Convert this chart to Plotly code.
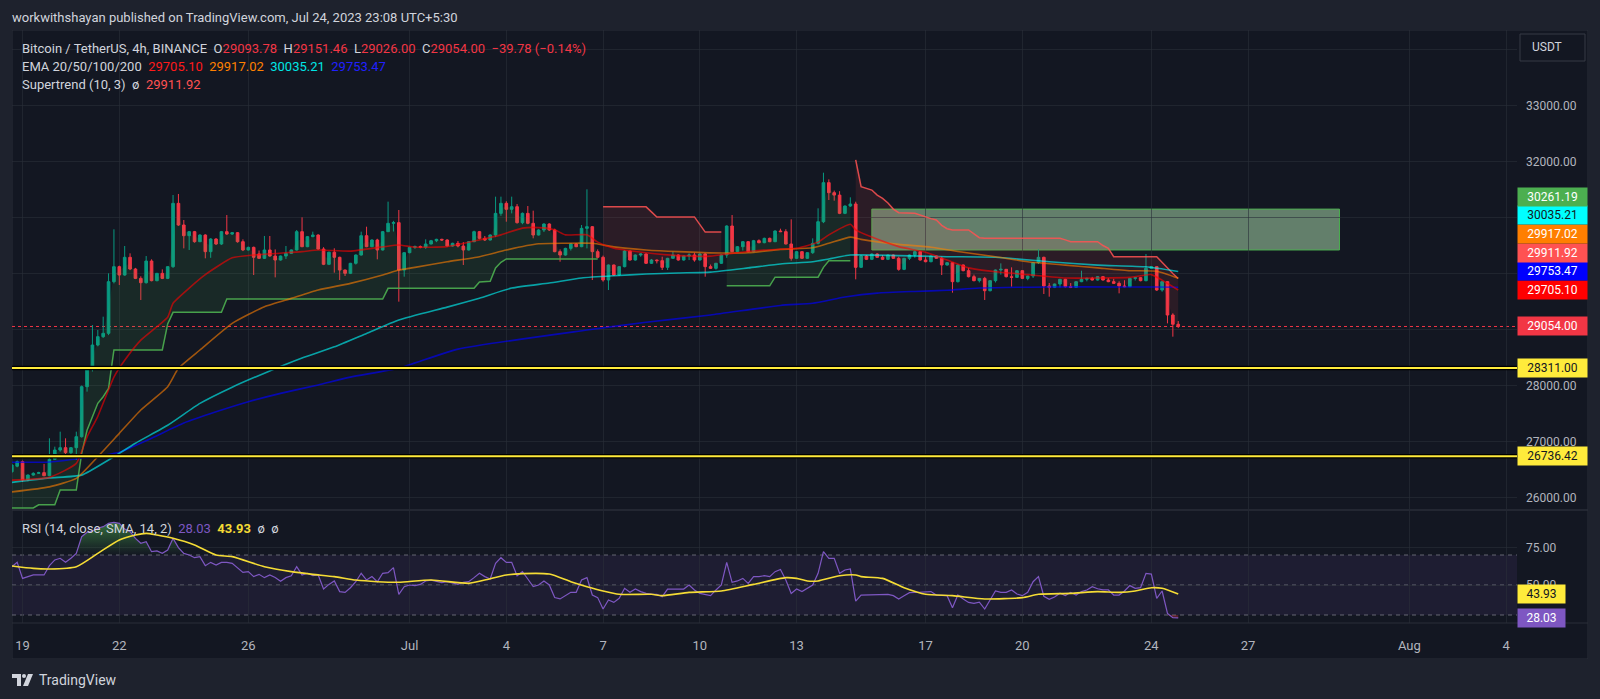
import numpy as np
import pandas as pd
import plotly.graph_objects as go

W, H = 1600, 699
BG = "#131722"
FRAME = "#1e222d"
BORDER = "#2a2e39"
GRID = "rgba(42,46,57,0.6)"
TEXT = "#d1d4dc"
AXIS_TEXT = "#b2b5be"
UP = "#089981"
DOWN = "#f23645"
FONT = "Roboto, 'Noto Sans', sans-serif"

# ---- BTCUSDT 4h candles, first bar 2023-06-18 16:00 ----
bar_start = "2023-06-18 16:00"
opens = [
    26460, 26560, 26640, 26313, 26402, 26432, 26444, 26390, 26682, 26848,
    26890, 26801, 26890, 27086, 27979, 28289, 28723, 28872, 28932, 29854,
    30122, 29973, 30289, 30080, 29913, 29836, 30223, 29872, 30003, 29913,
    30122, 31253, 30866, 30675, 30747, 30568, 30687, 30390, 30616, 30527,
    30747, 30705, 30729, 30568, 30420, 30467, 30350, 30271, 30420, 30312,
    30241, 30312, 30360, 30420, 30747, 30479, 30658, 30687, 30437, 30164,
    30380, 30289, 30062, 30003, 30182, 30330, 30675, 30479, 30598, 30420,
    30747, 30896, 30908, 30062, 30372, 30467, 30480, 30470, 30527, 30586,
    30610, 30598, 30491, 30539, 30491, 30420, 30568, 30747, 30628, 30598,
    30687, 31074, 31253, 31146, 31193, 30908, 31074, 30896, 30687, 30777,
    30884, 30777, 30390, 30330, 30449, 30527, 30479, 30806, 30836, 30390,
    30289, 29884, 30152, 29973, 30122, 30402, 30241, 30330, 30348, 30182,
    30240, 30229, 30110, 30271, 30330, 30241, 30312, 30330, 30241, 30348,
    30122, 30092, 30182, 30330, 30848, 30390, 30479, 30568, 30390, 30586,
    30550, 30628, 30568, 30759, 30747, 30527, 30271, 30390, 30271, 30372,
    30539, 30925, 31622, 31443, 31400, 31074, 31205, 31241, 30110, 30312,
    30253, 30348, 30289, 30253, 30330, 30271, 30074, 30271, 30330, 30390,
    30241, 30211, 30312, 30271, 30152, 30193, 29854, 30152, 30050, 29943,
    29872, 29913, 29693, 29872, 30062, 30075, 29943, 29931, 30050, 29913,
    29955, 30193, 30289, 29777, 29753, 29812, 29896, 29765, 29753, 29854,
    29896, 29913, 29884, 29943, 29884, 29854, 29824, 29777, 29765, 29913,
    29925, 29872, 30092, 30122, 29705, 29854, 29259, 29093.78,
]
highs = [
    26600, 26660, 26660, 26410, 26450, 26460, 26600, 27057, 26908, 27176,
    27057, 26900, 27176, 28000, 28300, 29080, 28991, 29229, 30003, 30789,
    30140, 30491, 30360, 30100, 29950, 30312, 30253, 30010, 30074, 30130,
    31402, 31420, 30955, 30760, 30760, 30700, 30700, 30630, 30630, 30760,
    31044, 30740, 30740, 30610, 30480, 30480, 30410, 30670, 30670, 30430,
    30320, 30491, 30430, 30777, 31003, 30670, 30747, 30700, 30470, 30390,
    30450, 30300, 30070, 30190, 30340, 30747, 30836, 30610, 30620, 30760,
    31283, 30940, 31134, 30380, 30480, 30500, 30500, 30610, 30600, 30620,
    30620, 30610, 30550, 30580, 30560, 30580, 30765, 30760, 30670, 30700,
    31372, 31372, 31290, 31372, 31240, 31090, 31205, 31122, 30790, 30896,
    30896, 30800, 30430, 30460, 30540, 30540, 30866, 31503, 30848, 30430,
    30320, 30160, 30160, 30130, 30420, 30410, 30340, 30360, 30360, 30260,
    30250, 30300, 30280, 30390, 30340, 30320, 30360, 30370, 30360, 30360,
    30160, 30190, 30340, 30860, 31044, 30490, 30580, 30580, 30600, 30610,
    30640, 30640, 30770, 30800, 30790, 30967, 30400, 30400, 30380, 30628,
    31164, 31800, 31681, 31480, 31470, 31215, 31360, 31282, 30330, 30330,
    30360, 30360, 30330, 30340, 30340, 30300, 30280, 30340, 30431, 30400,
    30300, 30320, 30320, 30300, 30200, 30200, 30160, 30160, 30100, 29980,
    29920, 29940, 29880, 30070, 30181, 30080, 30110, 30060, 30060, 29960,
    30200, 30431, 30300, 29830, 29820, 29905, 29905, 29830, 29860, 30050,
    29925, 29940, 29950, 29950, 29920, 29905, 29860, 29880, 29920, 29935,
    29935, 30348, 30130, 30130, 29860, 29860, 29290, 29151.46,
]
lows = [
    26440, 26540, 26283, 26290, 26390, 26420, 26380, 26380, 26670, 26818,
    26729, 26717, 26670, 27070, 27890, 28250, 28700, 28850, 28900, 29824,
    29795, 29960, 30060, 29900, 29527, 29820, 29860, 29860, 29900, 29900,
    30100, 30850, 30449, 30420, 30550, 30560, 30271, 30280, 30510, 30510,
    30690, 30690, 30550, 30400, 30410, 29973, 30260, 30260, 30300, 29931,
    30230, 30260, 30350, 30410, 30470, 30470, 30650, 30420, 30150, 30150,
    30015, 29884, 29955, 29990, 30160, 30320, 30470, 30470, 30253, 30410,
    30740, 30750, 29497, 29943, 30360, 30440, 30450, 30440, 30520, 30560,
    30580, 30480, 30480, 30467, 30152, 30410, 30560, 30610, 30580, 30590,
    30650, 31030, 30925, 31074, 30890, 30880, 30880, 30628, 30680, 30740,
    30760, 30380, 30211, 30320, 30410, 30470, 30470, 30449, 29884, 30270,
    29854, 29705, 29960, 29960, 30110, 30230, 30230, 30300, 30170, 30170,
    30180, 30062, 30062, 30260, 30230, 30230, 30240, 30211, 30230, 29943,
    30080, 30070, 30170, 30280, 30380, 30380, 30410, 30380, 30380, 30540,
    30540, 30560, 30560, 30740, 30520, 30229, 30260, 30260, 30260, 30350,
    30520, 30900, 31312, 31300, 31060, 31060, 31190, 29896, 30100, 30240,
    30240, 30280, 30240, 30240, 30260, 30050, 30060, 30240, 30280, 30230,
    30200, 30200, 30260, 29973, 30140, 29658, 29840, 30040, 29930, 29860,
    29840, 29527, 29680, 29840, 29980, 29930, 29765, 29920, 29900, 29880,
    29920, 30170, 29634, 29586, 29740, 29750, 29750, 29740, 29750, 29845,
    29860, 29875, 29875, 29875, 29845, 29815, 29646, 29755, 29755, 29875,
    29860, 29860, 30080, 29690, 29675, 29110, 28872, 29026.00,
]
closes = [
    26580, 26640, 26313, 26402, 26432, 26444, 26390, 26682, 26848, 26890,
    26801, 26890, 27086, 27979, 28289, 28723, 28872, 28932, 29854, 30122,
    29973, 30289, 30080, 29913, 29836, 30223, 29872, 30003, 29913, 30122,
    31253, 30866, 30675, 30747, 30568, 30687, 30390, 30616, 30527, 30747,
    30705, 30729, 30568, 30420, 30467, 30289, 30271, 30420, 30312, 30241,
    30312, 30360, 30420, 30747, 30479, 30658, 30687, 30437, 30164, 30380,
    30289, 30062, 30003, 30182, 30330, 30675, 30479, 30598, 30420, 30747,
    30896, 30908, 30062, 30372, 30467, 30480, 30470, 30527, 30586, 30610,
    30598, 30491, 30539, 30491, 30420, 30568, 30747, 30628, 30598, 30687,
    31074, 31253, 31146, 31193, 30908, 31074, 30896, 30687, 30777, 30884,
    30777, 30390, 30330, 30449, 30527, 30479, 30806, 30836, 30390, 30289,
    29884, 30152, 29973, 30122, 30402, 30241, 30330, 30348, 30182, 30240,
    30229, 30110, 30271, 30330, 30241, 30312, 30330, 30241, 30348, 30122,
    30092, 30182, 30330, 30848, 30390, 30479, 30568, 30390, 30586, 30550,
    30628, 30568, 30759, 30747, 30527, 30271, 30390, 30271, 30372, 30539,
    30925, 31622, 31443, 31400, 31074, 31205, 31241, 30110, 30312, 30253,
    30348, 30289, 30253, 30330, 30271, 30074, 30271, 30330, 30390, 30241,
    30211, 30312, 30271, 30152, 30193, 29854, 30152, 30050, 29943, 29872,
    29913, 29693, 29872, 30062, 30075, 29943, 29931, 30050, 29913, 29955,
    30193, 30289, 29777, 29753, 29812, 29896, 29765, 29753, 29854, 29896,
    29913, 29884, 29943, 29884, 29854, 29824, 29777, 29765, 29913, 29925,
    29872, 30092, 30122, 29705, 29854, 29259, 29093.78, 29054.00,
]

# ---- EMA 20/50/100/200 (bar index -> value) ----
ema20_idx = [0, 7, 12, 14, 16, 19, 21, 24, 27, 29, 30, 33, 36, 41, 45, 54, 57, 63, 69, 72,
             75, 81, 87, 91, 95, 98, 101, 103, 107, 109, 112, 118, 124, 130, 134, 140, 146,
             150, 152, 156, 157, 160, 165, 170, 174, 178, 183, 189, 196, 202, 208, 212, 214, 217]
ema20_val = [26310, 26360, 26610, 27080, 27450, 28150, 28450, 28810, 29050, 29220, 29470,
             29740, 29980, 30280, 30330, 30390, 30420, 30400, 30475, 30510, 30470, 30480,
             30600, 30690, 30810, 30820, 30780, 30690, 30690, 30560, 30450, 30370, 30320,
             30310, 30360, 30420, 30450, 30560, 30690, 30880, 30780, 30650, 30480, 30380,
             30240, 30100, 30030, 29980, 29920, 29920, 29930, 29980, 29880, 29705.10]
ema50_idx = [0, 7, 12, 16, 20, 24, 29, 31, 35, 41, 47, 52, 57, 63, 69, 72, 75, 81, 87, 92,
             98, 103, 108, 112, 118, 124, 132, 137, 143, 149, 152, 156, 158, 165, 171, 177,
             183, 189, 196, 202, 208, 213, 217]
ema50_val = [26100, 26190, 26342, 26729, 27146, 27563, 27979, 28307, 28634, 29110, 29408,
             29556, 29705, 29824, 29973, 30062, 30110, 30210, 30300, 30420, 30530, 30540,
             30540, 30475, 30420, 30390, 30365, 30370, 30430, 30460, 30540, 30650, 30610,
             30520, 30470, 30380, 30300, 30210, 30150, 30100, 30050, 30040, 29917.02]
ema100_idx = [0, 7, 13, 18, 23, 29, 35, 41, 47, 54, 60, 66, 72, 81, 87, 93, 100, 106, 112,
              118, 124, 130, 137, 143, 149, 152, 156, 165, 174, 183, 193, 202, 211, 217]
ema100_val = [26270, 26350, 26400, 26670, 26970, 27290, 27680, 27970, 28220, 28490, 28690,
              28930, 29170, 29400, 29560, 29740, 29830, 29920, 29960, 29990, 30010, 30025,
              30100, 30170, 30210, 30260, 30330, 30320, 30300, 30290, 30210, 30150, 30120,
              30035.21]
ema200_idx = [0, 7, 13, 20, 26, 32, 38, 44, 50, 57, 63, 72, 83, 107, 118, 130, 143, 149,
              155, 161, 168, 174, 180, 193, 205, 213, 217]
ema200_val = [26630, 26635, 26700, 26810, 27060, 27330, 27530, 27710, 27860, 28010, 28150,
              28310, 28650, 28990, 29130, 29260, 29430, 29470, 29580, 29650, 29680, 29700,
              29740, 29760, 29760, 29760, 29753.47]

# ---- Supertrend (10, 3): line points and trend segments (bar ranges) ----
st_idx = [0, 4, 5, 8, 9, 12, 13, 14, 15, 16, 17, 18, 19, 28, 29, 30, 39, 40, 69, 70, 86, 87,
          89, 90, 91, 92, 109,
          110, 118, 119, 120, 127, 128, 129, 132,
          133, 141, 142, 150, 151, 152, 156,
          157, 158, 160, 161, 162, 163, 164, 165, 168, 169, 170, 171, 172, 173, 174, 175,
          178, 179, 180, 181, 195, 196, 197, 202, 203, 204, 205, 213, 214, 215, 216, 217]
st_val = [25815, 25815, 25870, 25870, 26134, 26134, 26789, 27200, 27443, 27682, 27800, 27949,
          28634, 28634, 29100, 29307, 29307, 29545, 29545, 29735, 29735, 29850, 29860, 30100,
          30200, 30260, 30260,
          31190, 31190, 31100, 31010, 31010, 30870, 30740, 30740,
          29780, 29780, 29935, 29935, 30110, 30229, 30229,
          32030, 31550, 31490, 31400, 31342, 31260, 31150, 31086, 31074, 31040, 31015, 30980,
          30955, 30860, 30800, 30777, 30777, 30700, 30640, 30628, 30628, 30600, 30568, 30568,
          30500, 30449, 30300, 30300, 30200, 30092, 30000, 29911.92]
st_trend = [(0, 109, "up"), (110, 132, "down"), (133, 156, "up"), (157, 217, "down")]

# ---- RSI (14) per bar and its SMA (14) ----
rsi_val = [
    62.2, 65.1, 54.4, 55.6, 56.7, 56.7, 56.7, 62.9, 66.7, 67.8,
    65.1, 67.8, 71.1, 82.2, 85.1, 86.0, 87.8, 88.9, 91.1, 91.8,
    91.1, 87.3, 85.6, 81.1, 77.8, 78.9, 72.2, 72.7, 71.1, 73.3,
    81.1, 74.9, 71.1, 70.0, 68.2, 68.9, 62.9, 65.1, 63.3, 65.1,
    65.1, 64.4, 61.1, 58.4, 58.9, 55.6, 57.1, 54.9, 56.7, 55.0,
    52.5, 54.9, 56.2, 62.2, 56.7, 57.8, 56.2, 56.7, 47.3, 50.4,
    52.7, 45.6, 45.1, 48.2, 52.2, 57.8, 53.3, 55.6, 52.2, 57.8,
    58.2, 61.6, 43.8, 48.9, 50.0, 49.6, 50.4, 52.7, 53.3, 52.7,
    51.6, 52.2, 51.1, 50.4, 51.8, 52.2, 54.9, 57.8, 55.6, 54.0,
    64.4, 68.2, 65.1, 65.1, 56.2, 58.9, 54.0, 48.9, 50.0, 52.7,
    50.0, 41.6, 40.7, 43.0, 45.1, 45.1, 53.3, 54.9, 43.3, 41.6,
    34.0, 40.0, 38.4, 41.1, 47.8, 45.1, 47.3, 45.6, 44.4, 44.0,
    43.8, 42.2, 47.3, 47.3, 47.3, 47.3, 50.0, 46.7, 44.4, 43.8,
    42.9, 46.7, 50.0, 65.1, 51.8, 52.7, 54.4, 51.1, 55.6, 55.6,
    56.2, 55.6, 58.9, 60.4, 53.3, 44.4, 47.3, 45.6, 47.8, 50.0,
    57.8, 72.2, 67.8, 67.8, 57.8, 60.0, 60.7, 39.3, 43.3, 43.3,
    43.3, 43.3, 43.8, 43.8, 42.9, 40.7, 42.9, 44.9, 45.0, 45.1,
    45.1, 45.6, 43.3, 42.9, 42.9, 34.9, 43.3, 40.7, 38.4, 37.8,
    38.5, 34.0, 40.0, 46.0, 45.1, 45.1, 46.7, 44.0, 42.9, 45.1,
    52.2, 55.6, 42.5, 40.5, 42.0, 44.5, 43.0, 45.1, 43.3, 45.6,
    46.7, 48.9, 47.5, 46.7, 46.7, 43.3, 43.3, 46.0, 49.6, 47.8,
    48.2, 57.8, 57.3, 41.1, 46.0, 31.1, 28.2, 28.03,
]
rsi_ma_idx = [0, 4, 7, 12, 16, 20, 23, 25, 27, 30, 34, 38, 41, 47, 52, 56, 60, 64, 68, 72,
              78, 85, 88, 92, 95, 100, 104, 107, 110, 113, 119, 121, 126, 132, 138, 144, 146,
              148, 150, 154, 157, 158, 162, 166, 170, 175, 181, 188, 191, 197, 202, 206, 209,
              212, 214, 217]
rsi_ma_val = [62.7, 61.1, 60.7, 62.2, 71.1, 80.0, 83.3, 84.4, 83.3, 81.1, 76.7, 70.0, 68.9,
              62.2, 58.9, 57.1, 55.6, 53.3, 52.2, 51.8, 53.3, 51.1, 53.3, 56.7, 57.6, 57.3,
              52.2, 48.9, 46.0, 43.8, 43.8, 42.9, 45.1, 46.0, 50.4, 54.9, 54.4, 52.7, 52.7,
              56.2, 56.7, 55.6, 54.4, 48.2, 43.8, 42.9, 40.7, 41.6, 43.8, 44.4, 45.6, 45.1,
              46.0, 48.2, 47.8, 43.93]

# ---- drawings ----
levels = [28311.00, 26736.42]
zone_start, zone_end = "2023-07-15 08:00", "2023-07-29 20:00"
zone_bottom, zone_top = 30420, 31150
extra_label = 30261.19   # green price-scale tag

date_ticks = ["2023-06-19", "2023-06-22", "2023-06-26", "2023-07-01", "2023-07-04",
              "2023-07-07", "2023-07-10", "2023-07-13", "2023-07-17", "2023-07-20",
              "2023-07-24", "2023-07-27", "2023-08-01", "2023-08-04"]
date_text = ["19", "22", "26", "Jul", "4", "7", "10", "13", "17", "20", "24", "27", "Aug", "4"]
price_ticks = list(range(26000, 35000, 1000))
hidden_price_ticks = [29000, 30000, 31000, 34000]

# ---- pixel layout ----
PLOT_L, PLOT_R = 12, 1517
CHART_L, CHART_R, CHART_T, CHART_B = 12, 1588, 30, 659
PRICE_T, PRICE_B = 30, 509
RSI_T, RSI_B = 511, 623
price_range = [25795, 34348]
rsi_range = [24.67, 99.33]
x_range = ["2023-06-18 16:09", "2023-08-04 08:06"]


def px(x):
    return x / W


def py(y):
    return 1 - y / H


times = pd.date_range(bar_start, periods=len(closes), freq="4h")
o = np.array(opens)
c = np.array(closes)
body_mid = (o + c) / 2
st_i = np.array(st_idx)
st_v = np.array(st_val)
rsi = np.array(rsi_val)

fig = go.Figure()

# supertrend fills + lines
for a, b, trend in st_trend:
    line_col = "rgba(76,175,80,0.9)" if trend == "up" else "rgba(255,82,82,0.85)"
    fill_col = "rgba(76,175,80,0.12)" if trend == "up" else "rgba(255,82,82,0.10)"
    fig.add_trace(go.Scatter(x=times[a:b + 1], y=body_mid[a:b + 1], mode="lines",
                             line=dict(width=0), hoverinfo="skip"))
    m = (st_i >= a) & (st_i <= b)
    fig.add_trace(go.Scatter(x=times[st_i[m]], y=st_v[m], mode="lines",
                             line=dict(color=line_col, width=1.5),
                             fill="tonexty", fillcolor=fill_col, hoverinfo="skip"))

fig.add_trace(go.Candlestick(
    x=times, open=opens, high=highs, low=lows, close=closes,
    increasing=dict(line=dict(color=UP, width=1), fillcolor=UP),
    decreasing=dict(line=dict(color=DOWN, width=1), fillcolor=DOWN),
    hoverinfo="skip", xaxis="x", yaxis="y",
))

for idx, val, col in [(ema200_idx, ema200_val, "rgba(0,0,255,0.65)"),
                      (ema100_idx, ema100_val, "rgba(0,255,255,0.6)"),
                      (ema50_idx, ema50_val, "rgba(255,127,0,0.6)"),
                      (ema20_idx, ema20_val, "rgba(255,0,0,0.6)")]:
    fig.add_trace(go.Scatter(x=times[idx], y=val, mode="lines",
                             line=dict(color=col, width=1.6, shape="spline", smoothing=0.5),
                             hoverinfo="skip"))


# RSI pane: overbought / oversold fills
def runs(mask):
    out, start = [], None
    for k, flag in enumerate(mask):
        if flag and start is None:
            start = k
        if not flag and start is not None:
            out.append((max(start - 1, 0), k))
            start = None
    if start is not None:
        out.append((max(start - 1, 0), len(mask) - 1))
    return out


for s, e in runs(rsi > 70):
    fig.add_trace(go.Scatter(x=times[s:e + 1], y=[70] * (e - s + 1), mode="lines",
                             line=dict(width=0), xaxis="x2", yaxis="y2", hoverinfo="skip"))
    fig.add_trace(go.Scatter(x=times[s:e + 1], y=np.maximum(rsi[s:e + 1], 70), mode="lines",
                             line=dict(width=0), fill="tonexty",
                             fillgradient=dict(type="vertical", start=70, stop=95,
                                               colorscale=[[0, "rgba(76,175,80,0.0)"],
                                                           [1, "rgba(76,175,80,0.65)"]]),
                             xaxis="x2", yaxis="y2", hoverinfo="skip"))
for s, e in runs(rsi < 30):
    fig.add_trace(go.Scatter(x=times[s:e + 1], y=[30] * (e - s + 1), mode="lines",
                             line=dict(width=0), xaxis="x2", yaxis="y2", hoverinfo="skip"))
    fig.add_trace(go.Scatter(x=times[s:e + 1], y=np.minimum(rsi[s:e + 1], 30), mode="lines",
                             line=dict(width=0), fill="tonexty",
                             fillcolor="rgba(242,54,69,0.3)",
                             xaxis="x2", yaxis="y2", hoverinfo="skip"))

fig.add_trace(go.Scatter(x=times, y=rsi_val, mode="lines", line=dict(color="#7e57c2", width=1.2),
                         xaxis="x2", yaxis="y2", hoverinfo="skip"))
fig.add_trace(go.Scatter(x=times[rsi_ma_idx], y=rsi_ma_val, mode="lines",
                         line=dict(color="#f5dc35", width=1.6, shape="spline", smoothing=0.6),
                         xaxis="x2", yaxis="y2", hoverinfo="skip"))

# ---- shapes ----
shapes = [
    dict(type="rect", xref="paper", yref="paper", x0=px(CHART_L), x1=px(CHART_R),
         y0=py(CHART_B), y1=py(CHART_T), fillcolor=BG, line=dict(color=BORDER, width=1),
         layer="below"),
    dict(type="rect", xref="x", yref="y", x0=zone_start, x1=zone_end, y0=zone_bottom,
         y1=zone_top, fillcolor="rgba(165,214,167,0.55)", line=dict(color="#4caf50", width=1),
         layer="below"),
    dict(type="rect", xref="paper", yref="y2", x0=px(PLOT_L), x1=px(PLOT_R), y0=30, y1=70,
         fillcolor="rgba(126,87,194,0.1)", line=dict(width=0), layer="below"),
    dict(type="line", xref="paper", yref="y", x0=px(PLOT_L), x1=px(PLOT_R),
         y0=closes[-1], y1=closes[-1], line=dict(color=DOWN, width=1, dash="dot"), layer="below"),
    dict(type="line", xref="paper", yref="paper", x0=px(CHART_L), x1=px(CHART_R),
         y0=py(510), y1=py(510), line=dict(color=BORDER, width=1.5)),
    dict(type="line", xref="paper", yref="paper", x0=px(CHART_L), x1=px(CHART_R),
         y0=py(RSI_B), y1=py(RSI_B), line=dict(color=BORDER, width=1)),
    dict(type="rect", xref="paper", yref="paper", x0=px(1520), x1=px(1585), y0=py(61),
         y1=py(34), fillcolor=BG, line=dict(color="#363a45", width=1)),
]
for lv in [70, 50, 30]:
    shapes.append(dict(type="line", xref="paper", yref="y2", x0=px(PLOT_L), x1=px(PLOT_R),
                       y0=lv, y1=lv, line=dict(color="rgba(120,123,134,0.8)", width=1,
                                               dash="4px,4px"), layer="below"))
for lv in levels:
    shapes.append(dict(type="line", xref="paper", yref="y", x0=px(PLOT_L), x1=px(PLOT_R),
                       y0=lv, y1=lv, line=dict(color="#000000", width=4.5)))
    shapes.append(dict(type="line", xref="paper", yref="y", x0=px(PLOT_L), x1=px(PLOT_R),
                       y0=lv, y1=lv, line=dict(color="#ffeb3b", width=2)))
# TradingView logo
shapes += [
    dict(type="path", xref="paper", yref="paper", fillcolor=TEXT, line=dict(width=0),
         path=f"M{px(12)},{py(674)} L{px(21)},{py(674)} L{px(21)},{py(686)} L{px(17)},{py(686)} "
              f"L{px(17)},{py(678)} L{px(12)},{py(678)} Z"),
    dict(type="circle", xref="paper", yref="paper", fillcolor=TEXT, line=dict(width=0),
         x0=px(22), x1=px(26), y0=py(678), y1=py(674)),
    dict(type="path", xref="paper", yref="paper", fillcolor=TEXT, line=dict(width=0),
         path=f"M{px(28)},{py(674)} L{px(33)},{py(674)} L{px(28)},{py(686)} L{px(23)},{py(686)} Z"),
]

# ---- annotations ----
ann = []


def text(x, y, s, size=13, color=TEXT, anchor="left"):
    ann.append(dict(x=px(x), y=py(y), xref="paper", yref="paper", text=s, showarrow=False,
                    xanchor=anchor, yanchor="middle", font=dict(size=size, color=color)))


def tag(value_y, s, bg, fg, yref="y", width=65):
    ann.append(dict(x=px(PLOT_R), y=value_y, xref="paper", yref=yref, text=s, showarrow=False,
                    xanchor="left", yanchor="middle", width=width, height=14, borderpad=2,
                    bgcolor=bg, font=dict(size=12, color=fg), align="center"))


text(10, 17, "workwithshayan published on TradingView.com, Jul 24, 2023 23:08 UTC+5:30")
chg = closes[-1] - opens[-1]
pct = chg / opens[-1] * 100
sp = "&nbsp;&nbsp;"


def red(v):
    return f'<span style="color:{DOWN}">{v}</span>'


text(20, 48, "Bitcoin / TetherUS, 4h, BINANCE" + sp +
     f"O{red(f'{opens[-1]:.2f}')}{sp}H{red(f'{highs[-1]:.2f}')}{sp}"
     f"L{red(f'{lows[-1]:.2f}')}{sp}C{red(f'{closes[-1]:.2f}')}{sp}"
     + red(f"−{abs(chg):.2f} (−{abs(pct):.2f}%)"))
text(20, 66, "EMA 20/50/100/200" + sp +
     f'<span style="color:#ff1a1a">{ema20_val[-1]:.2f}</span>{sp}'
     f'<span style="color:#ff8000">{ema50_val[-1]:.2f}</span>{sp}'
     f'<span style="color:#00e5e5">{ema100_val[-1]:.2f}</span>{sp}'
     f'<span style="color:#2020ff">{ema200_val[-1]:.2f}</span>')
text(20, 85, "Supertrend (10, 3)" + sp + "ø" + sp +
     f'<span style="color:#ff5252">{st_val[-1]:.2f}</span>')
text(20, 528, "RSI (14, close, SMA, 14, 2)" + sp +
     f'<span style="color:#7e57c2">{rsi_val[-1]:.2f}</span>{sp}'
     f'<span style="color:#f5dc35"><b>{rsi_ma_val[-1]:.2f}</b></span>{sp}ø{sp}ø')
text(1530, 47.5, "USDT", size=12)
text(37, 680, "TradingView", size=14)

# price-scale tags, stacked upward like the platform does
units_per_px = (price_range[1] - price_range[0]) / (PRICE_B - PRICE_T)
gap = 18.7 * units_per_px
stack = sorted([
    (ema20_val[-1], "#ff0000", "#ffffff"),
    (ema200_val[-1], "#0000ff", "#ffffff"),
    (st_val[-1], "#ff5252", "#ffffff"),
    (ema50_val[-1], "#ff7f00", "#ffffff"),
    (ema100_val[-1], "#00ffff", "#131722"),
    (extra_label, "#4caf50", "#ffffff"),
])
prev = None
for v, bg, fg in stack:
    pos = v if prev is None else max(v, prev + gap)
    tag(pos, f"{v:.2f}", bg, fg)
    prev = pos
tag(closes[-1], f"{closes[-1]:.2f}", DOWN, "#ffffff")
for lv in levels:
    tag(lv, f"{lv:.2f}", "#ffeb3b", "#131722")
tag(rsi_ma_val[-1], f"{rsi_ma_val[-1]:.2f}", "#ffeb3b", "#131722", yref="y2", width=43)
tag(rsi_val[-1], f"{rsi_val[-1]:.2f}", "#7e57c2", "#ffffff", yref="y2", width=43)

# frame strips around the chart
for x0, x1, y0, y1 in [(0, W, 0, CHART_T), (0, W, CHART_B, H), (0, CHART_L, 0, H),
                       (CHART_R, W, 0, H)]:
    shapes.append(dict(type="rect", xref="paper", yref="paper", x0=px(x0), x1=px(x1),
                       y0=py(y1), y1=py(y0), fillcolor=FRAME, line=dict(width=0), layer="below"))

xcommon = dict(domain=[px(PLOT_L), px(PLOT_R)], range=x_range, type="date", tickvals=date_ticks,
               showgrid=True, gridcolor=GRID, gridwidth=1, zeroline=False, showline=False,
               fixedrange=True)
fig.update_layout(
    width=W, height=H, margin=dict(l=0, r=0, t=0, b=0),
    paper_bgcolor=BG, plot_bgcolor=BG, showlegend=False, hovermode=False,
    font=dict(family=FONT, color=TEXT),
    xaxis=dict(**xcommon, anchor="y", showticklabels=False, rangeslider=dict(visible=False)),
    xaxis2=dict(**xcommon, anchor="y2", matches="x", ticktext=date_text, ticks="",
                ticklabelstandoff=13, tickfont=dict(size=13, color=AXIS_TEXT)),
    yaxis=dict(domain=[py(PRICE_B), py(PRICE_T)], anchor="x", range=price_range, side="right",
               tickvals=price_ticks,
               ticktext=["" if t in hidden_price_ticks else f"{t:.2f}" for t in price_ticks],
               tickfont=dict(size=12, color=AXIS_TEXT), ticklabelstandoff=8, ticks="",
               showgrid=True, gridcolor=GRID, zeroline=False, showline=False, fixedrange=True),
    yaxis2=dict(domain=[py(RSI_B), py(RSI_T)], anchor="x2", range=rsi_range, side="right",
                tickvals=[25, 50, 75], ticktext=["", "50.00", "75.00"],
                tickfont=dict(size=12, color=AXIS_TEXT), ticklabelstandoff=8, ticks="",
                showgrid=True, gridcolor=GRID, zeroline=False, showline=False, fixedrange=True),
    shapes=shapes, annotations=ann,
)

# the page's default 8px body margin would shift the whole chart
fig.write_html("out.html", config={"displayModeBar": False},
               post_script="document.body.style.margin='0px';")
